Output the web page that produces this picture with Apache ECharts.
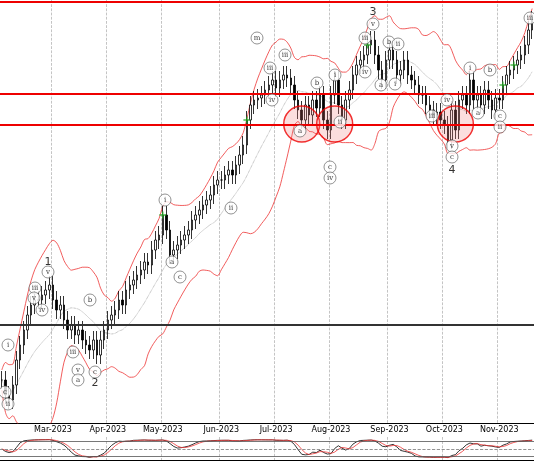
<!DOCTYPE html>
<html>
<head>
<meta charset="utf-8">
<script src="https://cdn.jsdelivr.net/npm/echarts@6/dist/echarts.min.js"></script>
<style>html,body{margin:0;padding:0;background:#fff}#c{width:534px;height:462px}</style>
</head>
<body>
<div id="c"></div>
<script>
// closes, read as screen height above the bottom of the plot
var closes = [
  50,35,30,45,70,85,100,115,125,130,
  130,135,140,145,130,120,125,110,100,105,
  95,100,90,85,80,90,75,90,100,110,
  115,120,130,125,140,145,150,155,160,168,
  165,180,190,195,215,200,175,180,185,190,
  195,200,210,215,220,225,230,235,245,250,
  250,255,260,255,265,275,285,310,325,330,
  332,335,340,345,350,342,350,355,352,345,
  330,320,310,325,315,330,322,335,310,300,
  335,350,325,310,330,340,355,365,370,375,
  385,390,375,360,350,370,380,370,355,360,
  370,355,350,345,335,335,325,320,315,318,
  310,305,290,320,300,330,335,325,350,330,
  335,325,340,330,320,332,330,345,355,360,
  365,370,375,385,400,410
];
var monthTicks = {'2023-03-01':'Mar-2023','2023-04-01':'Apr-2023','2023-05-01':'May-2023','2023-06-01':'Jun-2023',
  '2023-07-01':'Jul-2023','2023-08-01':'Aug-2023','2023-09-01':'Sep-2023','2023-10-01':'Oct-2023','2023-11-01':'Nov-2023'};
var levelsRed = [428, 336, 305];
var levelBlack = 105;
var circles = [[82, 306], [91, 306], [124, 306]];
// green plus markers: [bar index]
var pluses = [44, 67, 100, 137, 140];
// wave labels: [x px, y px, text, plain]
var waves = [
  [8,345,'i'],[35,288,'iii'],[34,298,'v'],[42,310,'iv'],[8,404,'ii'],[5,392,'c'],[48,262,'1',1],[48,272,'v'],
  [90,300,'b'],[73,352,'iii'],[78,370,'v'],[78,380,'a'],[95,372,'c'],[95,383,'2',1],
  [165,200,'i'],[172,262,'a'],[180,277,'c'],[231,208,'ii'],
  [270,68,'iii'],[257,38,'m'],[285,55,'iii'],[272,100,'iv'],[300,131,'a'],[317,83,'b'],[335,75,'i'],[330,167,'c'],[330,178,'iv'],[340,122,'ii'],
  [373,12,'3',1],[373,24,'v'],[365,38,'iii'],[365,72,'iv'],[381,85,'a'],[389,42,'b'],[398,44,'ii'],[395,84,'i'],
  [447,100,'iv'],[432,116,'iii'],[452,146,'v'],[452,157,'c'],[452,170,'4',1],
  [470,68,'i'],[490,70,'b'],[478,113,'a'],[500,116,'c'],[500,127,'ii'],[530,18,'iii']
];

var N = closes.length, step = 534 / N;
var dates = [];
var d0 = new Date(Date.UTC(2023, 1, 2));
for (var i = 0; i < N; i++) {
  var d = new Date(d0.getTime() + i * 2 * 86400000);
  dates.push(d.toISOString().slice(0, 10));
}
function monthIdx(i) {
  if (i === 0) return false;
  return dates[i].slice(0, 7) !== dates[i - 1].slice(0, 7);
}
function monthLabel(i) {
  var p = dates[i].slice(0, 7) + '-01';
  return monthTicks[p] || '';
}
var ohlc = closes.map(function (c, i) {
  var o = i ? closes[i - 1] : c;
  return [o, c, Math.min(o, c) - 9, Math.max(o, c) + 9];
});
// bollinger
var mid = [], up = [], lo = [];
for (var i = 0; i < N; i++) {
  var s = closes.slice(Math.max(0, i - 13), i + 1);
  var m = s.reduce(function (a, b) { return a + b; }, 0) / s.length;
  var sd = Math.sqrt(s.reduce(function (a, b) { return a + (b - m) * (b - m); }, 0) / s.length);
  mid.push(m); up.push(m + 2 * sd + 10); lo.push(m - 2 * sd - 10);
}
// stochastic
var k = [], ks = [];
for (var i = 0; i < N; i++) {
  var s = closes.slice(Math.max(0, i - 13), i + 1);
  var hi = Math.max.apply(null, s) + 9, lw = Math.min.apply(null, s) - 9;
  k.push(100 * (closes[i] - lw) / (hi - lw));
}
var k2 = [];
for (var i = 0; i < N; i++) {
  var s = k.slice(Math.max(0, i - 2), i + 1);
  k2.push(s.reduce(function (a, b) { return a + b; }, 0) / s.length);
}
for (var i = 0; i < N; i++) {
  var s = k2.slice(Math.max(0, i - 2), i + 1);
  ks.push(s.reduce(function (a, b) { return a + b; }, 0) / s.length);
}
var waveData = waves.filter(function (w) { return !w[3]; }).map(function (w) { return [w[0] / step, 430 - w[1], w[2]]; });
var numData = waves.filter(function (w) { return w[3]; }).map(function (w) { return [w[0] / step, 430 - w[1], w[2]]; });

var chart = echarts.init(document.getElementById('c'));
var xCat = function (gi, show) {
  return {
    type: 'category', data: dates, gridIndex: gi, boundaryGap: true,
    axisLine: {show: true, lineStyle: {color: '#000'}}, axisTick: {show: false},
    axisLabel: {show: show, interval: function (i) { return monthIdx(i); }, formatter: function (v, i) { return monthLabel(i); },
      fontSize: 8, color: '#000', margin: 3, fontFamily: 'DejaVu Sans'},
    splitLine: {show: true, interval: function (i) { return monthIdx(i); }, lineStyle: {type: 'dashed', color: '#aaa', width: 0.7}}
  };
};
chart.setOption({
  animation: false,
  grid: [{left: 0, right: 0, top: 0, height: 423}, {left: 0, right: 0, top: 437, height: 24}],
  xAxis: [xCat(0, true), xCat(1, false),
    {type: 'value', min: 0, max: N, show: false, gridIndex: 0}],
  yAxis: [{type: 'value', min: 7, max: 430, show: false, gridIndex: 0},
    {type: 'value', min: -5, max: 105, show: false, gridIndex: 1},
    {type: 'value', min: 7, max: 430, show: false, gridIndex: 0}],
  series: [
    {type: 'line', data: up, showSymbol: false, smooth: 0.3, lineStyle: {color: '#e33', width: 0.8}, z: 2,
      markLine: {silent: true, symbol: 'none', label: {show: false},
        data: levelsRed.map(function (v) { return {yAxis: v, lineStyle: {color: '#e00', width: 2, type: 'solid'}}; })
          .concat([{yAxis: levelBlack, lineStyle: {color: '#333', width: 2, type: 'solid'}}])}},
    {type: 'line', data: lo, showSymbol: false, smooth: 0.3, lineStyle: {color: '#e33', width: 0.8}, z: 2},
    {type: 'line', data: mid, showSymbol: false, smooth: 0.3, lineStyle: {color: '#888', width: 0.7, type: 'dotted'}, z: 2},
    {type: 'candlestick', data: ohlc, barWidth: 2, z: 3,
      itemStyle: {color: '#fff', color0: '#000', borderColor: '#000', borderColor0: '#000', borderWidth: 0.8}},
    {type: 'scatter', data: pluses.map(function (i) { return [i, closes[i]]; }), z: 4, symbolSize: 7,
      symbol: 'path://M4,0H6V4H10V6H6V10H4V6H0V4H4Z', itemStyle: {color: '#2a2'}},
    {type: 'scatter', xAxisIndex: 0, data: circles.map(function (c) { return [c[0], c[1]]; }), symbolSize: 36, z: 4,
      itemStyle: {color: 'rgba(240,120,120,0.3)', borderColor: '#e00', borderWidth: 1.5}},
    {type: 'scatter', xAxisIndex: 2, yAxisIndex: 2, data: waveData, symbolSize: 12, z: 5,
      itemStyle: {color: '#fff', borderColor: '#555', borderWidth: 0.8},
      label: {show: true, position: 'inside', formatter: function (p) { return p.value[2]; }, fontSize: 7, color: '#000', fontFamily: 'DejaVu Serif'}},
    {type: 'scatter', xAxisIndex: 2, yAxisIndex: 2, data: numData, symbolSize: 1, z: 5,
      label: {show: true, position: 'inside', formatter: function (p) { return p.value[2]; }, fontSize: 11, color: '#000', fontFamily: 'DejaVu Sans'}},
    {type: 'line', xAxisIndex: 1, yAxisIndex: 1, data: k2, showSymbol: false, lineStyle: {color: '#000', width: 0.8},
      markLine: {silent: true, symbol: 'none', label: {show: false},
        data: [{yAxis: 15, lineStyle: {color: '#555', type: 'solid', width: 0.8}}, {yAxis: 85, lineStyle: {color: '#555', type: 'solid', width: 0.8}},
          {yAxis: 50, lineStyle: {color: '#777', type: 'dashed', width: 0.8}}]}},
    {type: 'line', xAxisIndex: 1, yAxisIndex: 1, data: ks, showSymbol: false, lineStyle: {color: '#e33', width: 0.8}}
  ]
});
</script>
</body>
</html>
